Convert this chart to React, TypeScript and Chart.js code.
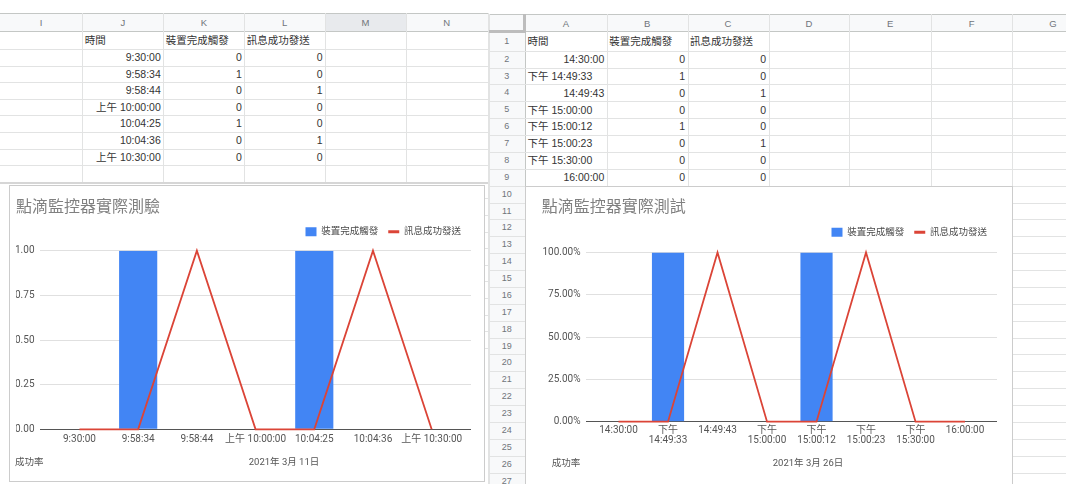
import React, { useEffect, useRef } from 'react';
import { Chart, registerables } from 'chart.js';

Chart.register(...registerables);

// ---------------- data ----------------
const seriesNames = ['裝置完成觸發', '訊息成功發送'];
const timeHeader = '時間';
const yAxisTitle = '成功率';

const mar11Times = ['9:30:00', '9:58:34', '9:58:44', '上午 10:00:00', '10:04:25', '10:04:36', '上午 10:30:00'];
const mar11Triggered = [0, 1, 0, 0, 1, 0, 0];
const mar11Sent = [0, 0, 1, 0, 0, 1, 0];
const mar11Title = '點滴監控器實際測驗';
const mar11Date = '2021年 3月 11日';

const mar26Times = ['14:30:00', '下午 14:49:33', '14:49:43', '下午 15:00:00', '下午 15:00:12', '下午 15:00:23', '下午 15:30:00', '16:00:00'];
const mar26Triggered = [0, 1, 0, 0, 1, 0, 0, 0];
const mar26Sent = [0, 0, 1, 0, 0, 1, 0, 0];
const mar26Title = '點滴監控器實際測試';
const mar26Date = '2021年 3月 26日';

const yTickValues = [0, 0.25, 0.5, 0.75, 1];
const leftColumnLetters = ['I', 'J', 'K', 'L', 'M', 'N'];
const rightColumnLetters = ['A', 'B', 'C', 'D', 'E', 'F', 'G'];
const rightRowCount = 27;

// ---------------- styles ----------------
const BLUE = '#4285F4';
const RED = '#DB4437';
const SHEET_FONT = '"Liberation Sans", Arial, "Noto Sans CJK TC", sans-serif';
const CHART_FONT = 'Roboto, "Noto Sans CJK TC", sans-serif';
const GRID = '#e2e3e3';
const HEAD_LINE = '#c4c7c5';
const HEAD_BG = '#f8f9fa';
const HEAD_TXT = '#70757a';
const CELL_TXT = '#333';
const AXIS_TXT = '#555';

Chart.defaults.font.family = CHART_FONT;

const legendGapPlugin = {
  id: 'legendGap',
  beforeLayout(chart: any, _args: any, opts: any) {
    const legend = chart.legend;
    if (legend && !legend.__gapPatched) {
      const orig = legend.fit;
      legend.fit = function () {
        orig.call(this);
        this.height += (opts && opts.gap) || 0;
      };
      legend.__gapPatched = true;
    }
  },
};

type Cfg = {
  labels: string[];
  bars: number[];
  line: number[];
  wrap: boolean;
  xMin: number;
  xMax: number;
  yFormat: (v: number) => string;
  title: string;
  padLeft: number;
  padRight: number;
  yWidth: number;
  xHeight: number;
  titleTop: number;
  titleBottom: number;
  gap: number;
  xTickPad: number;
};

function makeConfig(p: Cfg): any {
  return {
    type: 'bar',
    data: {
      datasets: [
        {
          type: 'bar',
          label: seriesNames[0],
          data: p.bars.map((v, i) => ({ x: i, y: v })),
          backgroundColor: BLUE,
          borderWidth: 0,
          categoryPercentage: 1,
          barPercentage: 0.65,
          pointStyle: 'rect',
          order: 1,
        },
        {
          type: 'line',
          label: seriesNames[1],
          data: p.line.map((v, i) => ({ x: i, y: v })),
          borderColor: RED,
          backgroundColor: RED,
          borderWidth: 1.8,
          pointRadius: 0,
          pointHoverRadius: 0,
          pointBorderWidth: 3,
          pointStyle: 'line',
          tension: 0,
          clip: false,
          order: 0,
        },
      ],
    },
    options: {
      animation: false,
      responsive: false,
      maintainAspectRatio: false,
      devicePixelRatio: 1,
      events: [],
      layout: { padding: { left: p.padLeft, right: p.padRight, top: 0, bottom: 0 } },
      plugins: {
        title: {
          display: true,
          text: p.title,
          align: 'start',
          color: '#808080',
          font: { size: 16, lineHeight: 1, weight: 'normal' },
          padding: { top: p.titleTop, bottom: p.titleBottom },
        },
        legend: {
          display: true,
          position: 'top',
          align: 'end',
          labels: {
            usePointStyle: true,
            pointStyleWidth: 11,
            boxHeight: 9,
            padding: 10,
            color: '#4a4a4a',
            font: { size: 9.5 },
            sort: (a: any, b: any) => a.datasetIndex - b.datasetIndex,
          },
        },
        tooltip: { enabled: false },
        legendGap: { gap: p.gap },
      },
      scales: {
        x: {
          type: 'linear',
          min: p.xMin,
          max: p.xMax,
          offset: false,
          grid: { display: false, drawTicks: false },
          border: { display: false },
          afterBuildTicks: (s: any) => {
            s.ticks = p.labels.map((_, i) => ({ value: i }));
          },
          afterFit: (s: any) => {
            s.height = p.xHeight;
          },
          ticks: {
            autoSkip: false,
            maxRotation: 0,
            minRotation: 0,
            padding: p.xTickPad,
            color: AXIS_TXT,
            font: { size: 10, lineHeight: 1 },
            callback: (v: any) => {
              const t = p.labels[Math.round(Number(v))] ?? '';
              return p.wrap && t.includes(' ') ? t.split(' ') : t;
            },
          },
        },
        y: {
          min: 0,
          max: 1,
          afterBuildTicks: (s: any) => {
            s.ticks = yTickValues.map((v) => ({ value: v }));
          },
          afterFit: (s: any) => {
            s.width = p.yWidth;
          },
          grid: {
            drawTicks: false,
            color: (ctx: any) => (ctx.tick && ctx.tick.value === 0 ? '#555' : '#e0e0e0'),
            lineWidth: 1,
          },
          border: { display: false },
          ticks: {
            padding: 5,
            color: AXIS_TXT,
            font: { size: 10 },
            callback: (v: any) => p.yFormat(Number(v)),
          },
        },
      },
    },
    plugins: [legendGapPlugin],
  };
}

// ---------------- small building blocks ----------------
function Rect({ x, y, w, h, c }: { x: number; y: number; w: number; h: number; c: string }) {
  return <div style={{ position: 'absolute', left: x, top: y, width: w, height: h, background: c }} />;
}

function Cell({
  x, y, w, h, text, align, size = 10.5, color = CELL_TXT,
}: { x: number; y: number; w: number; h: number; text: string; align: 'left' | 'right' | 'center'; size?: number; color?: string }) {
  return (
    <div
      style={{
        position: 'absolute', left: x, top: y, width: w, height: h,
        display: 'flex', alignItems: 'center',
        justifyContent: align === 'right' ? 'flex-end' : align === 'center' ? 'center' : 'flex-start',
        padding: '0 2.5px', boxSizing: 'border-box', fontSize: size, color,
        whiteSpace: 'nowrap', lineHeight: 1, fontFamily: SHEET_FONT,
      }}
    >
      {text}
    </div>
  );
}

function ChartCanvas({ x, y, w, h, cfg }: { x: number; y: number; w: number; h: number; cfg: Cfg }) {
  const ref = useRef<HTMLCanvasElement>(null);
  useEffect(() => {
    if (!ref.current) return;
    const chart = new Chart(ref.current, makeConfig(cfg));
    return () => chart.destroy();
  }, []);
  return <canvas ref={ref} width={w} height={h} style={{ position: 'absolute', left: x, top: y, width: w, height: h }} />;
}

function Label({ x, y, text, center }: { x: number; y: number; text: string; center?: boolean }) {
  return (
    <div
      style={{
        position: 'absolute', left: x, top: y, transform: center ? 'translate(-50%,-50%)' : 'translate(0,-50%)',
        fontSize: 9.5, color: AXIS_TXT, whiteSpace: 'nowrap', lineHeight: 1, fontFamily: CHART_FONT,
      }}
    >
      {text}
    </div>
  );
}

// ---------------- left sheet (Mar 11) ----------------
function LeftSheet() {
  const colX = [0, 82.3, 163.3, 244.3, 325, 406, 487.5];
  const headTop = 12.7;
  const headBottom = 32.3;
  const rowLines: number[] = [];
  for (let k = 0; k < 19; k++) rowLines.push(49 + k * 16.6);
  const els: any[] = [];
  els.push(<Rect key="hbg" x={0} y={headTop} w={487.5} h={headBottom - headTop} c={HEAD_BG} />);
  els.push(<Rect key="hsel" x={colX[4]} y={headTop} w={colX[5] - colX[4]} h={headBottom - headTop} c="#e8eaed" />);
  els.push(<Rect key="ht" x={0} y={headTop} w={487.5} h={1} c={HEAD_LINE} />);
  els.push(<Rect key="hb" x={0} y={headBottom - 1} w={487.5} h={1} c={HEAD_LINE} />);
  colX.slice(1).forEach((x, i) => {
    els.push(<Rect key={'v' + i} x={x} y={headTop} w={1} h={(i === colX.length - 2 ? 484 : 183) - headTop} c={GRID} />);
  });
  leftColumnLetters.forEach((l, i) => {
    els.push(<Cell key={'cl' + i} x={colX[i]} y={headTop} w={colX[i + 1] - colX[i]} h={headBottom - headTop} text={l} align="center" size={9.5} color={HEAD_TXT} />);
  });
  rowLines.forEach((y, i) => {
    if (y < 183) els.push(<Rect key={'r' + i} x={0} y={y} w={487.5} h={1} c={GRID} />);
    else els.push(<Rect key={'r' + i} x={484} y={y} w={4} h={1} c={GRID} />);
  });
  els.push(<Rect key="thick" x={0} y={182.3} w={487.5} h={2} c="#d6d6d6" />);
  const rowTop = (r: number) => (r === 0 ? headBottom : rowLines[r - 1]);
  const rowH = (r: number) => rowLines[r] - rowTop(r);
  const cw = (c: number) => colX[c + 1] - colX[c];
  els.push(<Cell key="h0" x={colX[1]} y={rowTop(0)} w={cw(1)} h={rowH(0)} text={timeHeader} align="left" />);
  els.push(<Cell key="h1" x={colX[2]} y={rowTop(0)} w={cw(2)} h={rowH(0)} text={seriesNames[0]} align="left" />);
  els.push(<Cell key="h2" x={colX[3]} y={rowTop(0)} w={cw(3)} h={rowH(0)} text={seriesNames[1]} align="left" />);
  mar11Times.forEach((t, i) => {
    const r = i + 1;
    els.push(<Cell key={'a' + i} x={colX[1]} y={rowTop(r)} w={cw(1)} h={rowH(r)} text={t} align="right" />);
    els.push(<Cell key={'b' + i} x={colX[2]} y={rowTop(r)} w={cw(2)} h={rowH(r)} text={String(mar11Triggered[i])} align="right" />);
    els.push(<Cell key={'c' + i} x={colX[3]} y={rowTop(r)} w={cw(3)} h={rowH(r)} text={String(mar11Sent[i])} align="right" />);
  });
  return <>{els}</>;
}

// ---------------- right sheet (Mar 26) ----------------
function RightSheet() {
  const x0 = 488.5;
  const colX = [525, 606.8, 687.6, 768.5, 849.3, 930.8, 1012.4, 1093.5];
  const headTop = 14.3;
  const headBottom = 32.3;
  const rowBottom = (k: number) => 50.7 + (k - 1) * 16.875;
  const rowTop = (k: number) => (k === 1 ? headBottom : rowBottom(k - 1));
  const els: any[] = [];
  els.push(<Rect key="hbg" x={x0} y={headTop} w={1066 - x0} h={headBottom - headTop} c={HEAD_BG} />);
  els.push(<Rect key="rnbg" x={x0} y={headBottom} w={colX[0] - x0} h={484 - headBottom} c={HEAD_BG} />);
  els.push(<Rect key="ht" x={x0} y={headTop} w={1066 - x0} h={1} c={HEAD_LINE} />);
  els.push(<Rect key="hb" x={x0} y={headBottom - 1} w={1066 - x0} h={1} c={HEAD_LINE} />);
  els.push(<Rect key="lv" x={x0} y={headTop} w={1} h={484 - headTop} c={GRID} />);
  colX.forEach((x, i) => {
    els.push(<Rect key={'v' + i} x={x} y={headTop} w={1} h={484 - headTop} c={i === 0 ? HEAD_LINE : GRID} />);
  });
  for (let k = 1; k <= rightRowCount; k++) {
    els.push(<Rect key={'r' + k} x={x0} y={rowBottom(k)} w={1066 - x0} h={1} c={GRID} />);
    els.push(<Cell key={'rn' + k} x={x0} y={rowTop(k)} w={colX[0] - x0} h={rowBottom(k) - rowTop(k)} text={String(k)} align="center" size={9} color={HEAD_TXT} />);
  }
  // frozen corner
  els.push(<Rect key="cv" x={522.5} y={headTop} w={3} h={headBottom - headTop} c="#bdbdbd" />);
  els.push(<Rect key="ch" x={x0} y={29.5} w={525.5 - x0} h={3} c="#bdbdbd" />);
  rightColumnLetters.forEach((l, i) => {
    els.push(<Cell key={'cl' + i} x={colX[i]} y={headTop} w={colX[i + 1] - colX[i]} h={headBottom - headTop} text={l} align="center" size={9.5} color={HEAD_TXT} />);
  });
  const cw = (c: number) => colX[c + 1] - colX[c];
  const h1 = rowBottom(1) - rowTop(1);
  els.push(<Cell key="h0" x={colX[0]} y={rowTop(1)} w={cw(0)} h={h1} text={timeHeader} align="left" />);
  els.push(<Cell key="h1" x={colX[1]} y={rowTop(1)} w={cw(1)} h={h1} text={seriesNames[0]} align="left" />);
  els.push(<Cell key="h2" x={colX[2]} y={rowTop(1)} w={cw(2)} h={h1} text={seriesNames[1]} align="left" />);
  mar26Times.forEach((t, i) => {
    const k = i + 2;
    const y = rowTop(k);
    const h = rowBottom(k) - y;
    els.push(<Cell key={'a' + i} x={colX[0]} y={y} w={cw(0)} h={h} text={t} align={t.startsWith('下午') ? 'left' : 'right'} />);
    els.push(<Cell key={'b' + i} x={colX[1]} y={y} w={cw(1)} h={h} text={String(mar26Triggered[i])} align="right" />);
    els.push(<Cell key={'c' + i} x={colX[2]} y={y} w={cw(2)} h={h} text={String(mar26Sent[i])} align="right" />);
  });
  return <>{els}</>;
}

// ---------------- chart configs ----------------
const mar11Cfg: Cfg = {
  labels: mar11Times,
  bars: mar11Triggered,
  line: mar11Sent,
  wrap: false,
  xMin: -0.681,
  xMax: 6.67,
  yFormat: (v) => v.toFixed(2),
  title: mar11Title,
  padLeft: 7,
  padRight: 14,
  yWidth: 23.5,
  xHeight: 52.7,
  titleTop: 15.3,
  titleBottom: 0.65,
  gap: 4.25,
  xTickPad: 4.7,
};

const mar26Cfg: Cfg = {
  labels: mar26Times,
  bars: mar26Triggered,
  line: mar26Sent,
  wrap: true,
  xMin: -0.667,
  xMax: 7.646,
  yFormat: (v) => (v * 100).toFixed(2) + '%',
  title: mar26Title,
  padLeft: 16.7,
  padRight: 15,
  yWidth: 43.8,
  xHeight: 62.3,
  titleTop: 13.5,
  titleBottom: 2.05,
  gap: 5.45,
  xTickPad: 4,
};

export default function App() {
  return (
    <div style={{ position: 'fixed', left: 0, top: 0, width: 1066, height: 484, overflow: 'hidden', background: '#fff', fontFamily: SHEET_FONT }}>
      <LeftSheet />
      <RightSheet />
      {/* chart frames */}
      <div style={{ position: 'absolute', left: 9, top: 185, width: 476, height: 297, border: '1px solid #cccccc', boxSizing: 'border-box', background: '#fff' }} />
      <div style={{ position: 'absolute', left: 525, top: 186, width: 487.5, height: 310, border: '1px solid #cccccc', boxSizing: 'border-box', background: '#fff' }} />
      <ChartCanvas x={9} y={185} w={476} h={297} cfg={mar11Cfg} />
      <ChartCanvas x={525} y={186} w={487} h={298} cfg={mar26Cfg} />
      <Label x={15} y={461.7} text={yAxisTitle} />
      <Label x={284} y={462} text={mar11Date} center />
      <Label x={551.7} y={463.3} text={yAxisTitle} />
      <Label x={808} y={463.3} text={mar26Date} center />
    </div>
  );
}
